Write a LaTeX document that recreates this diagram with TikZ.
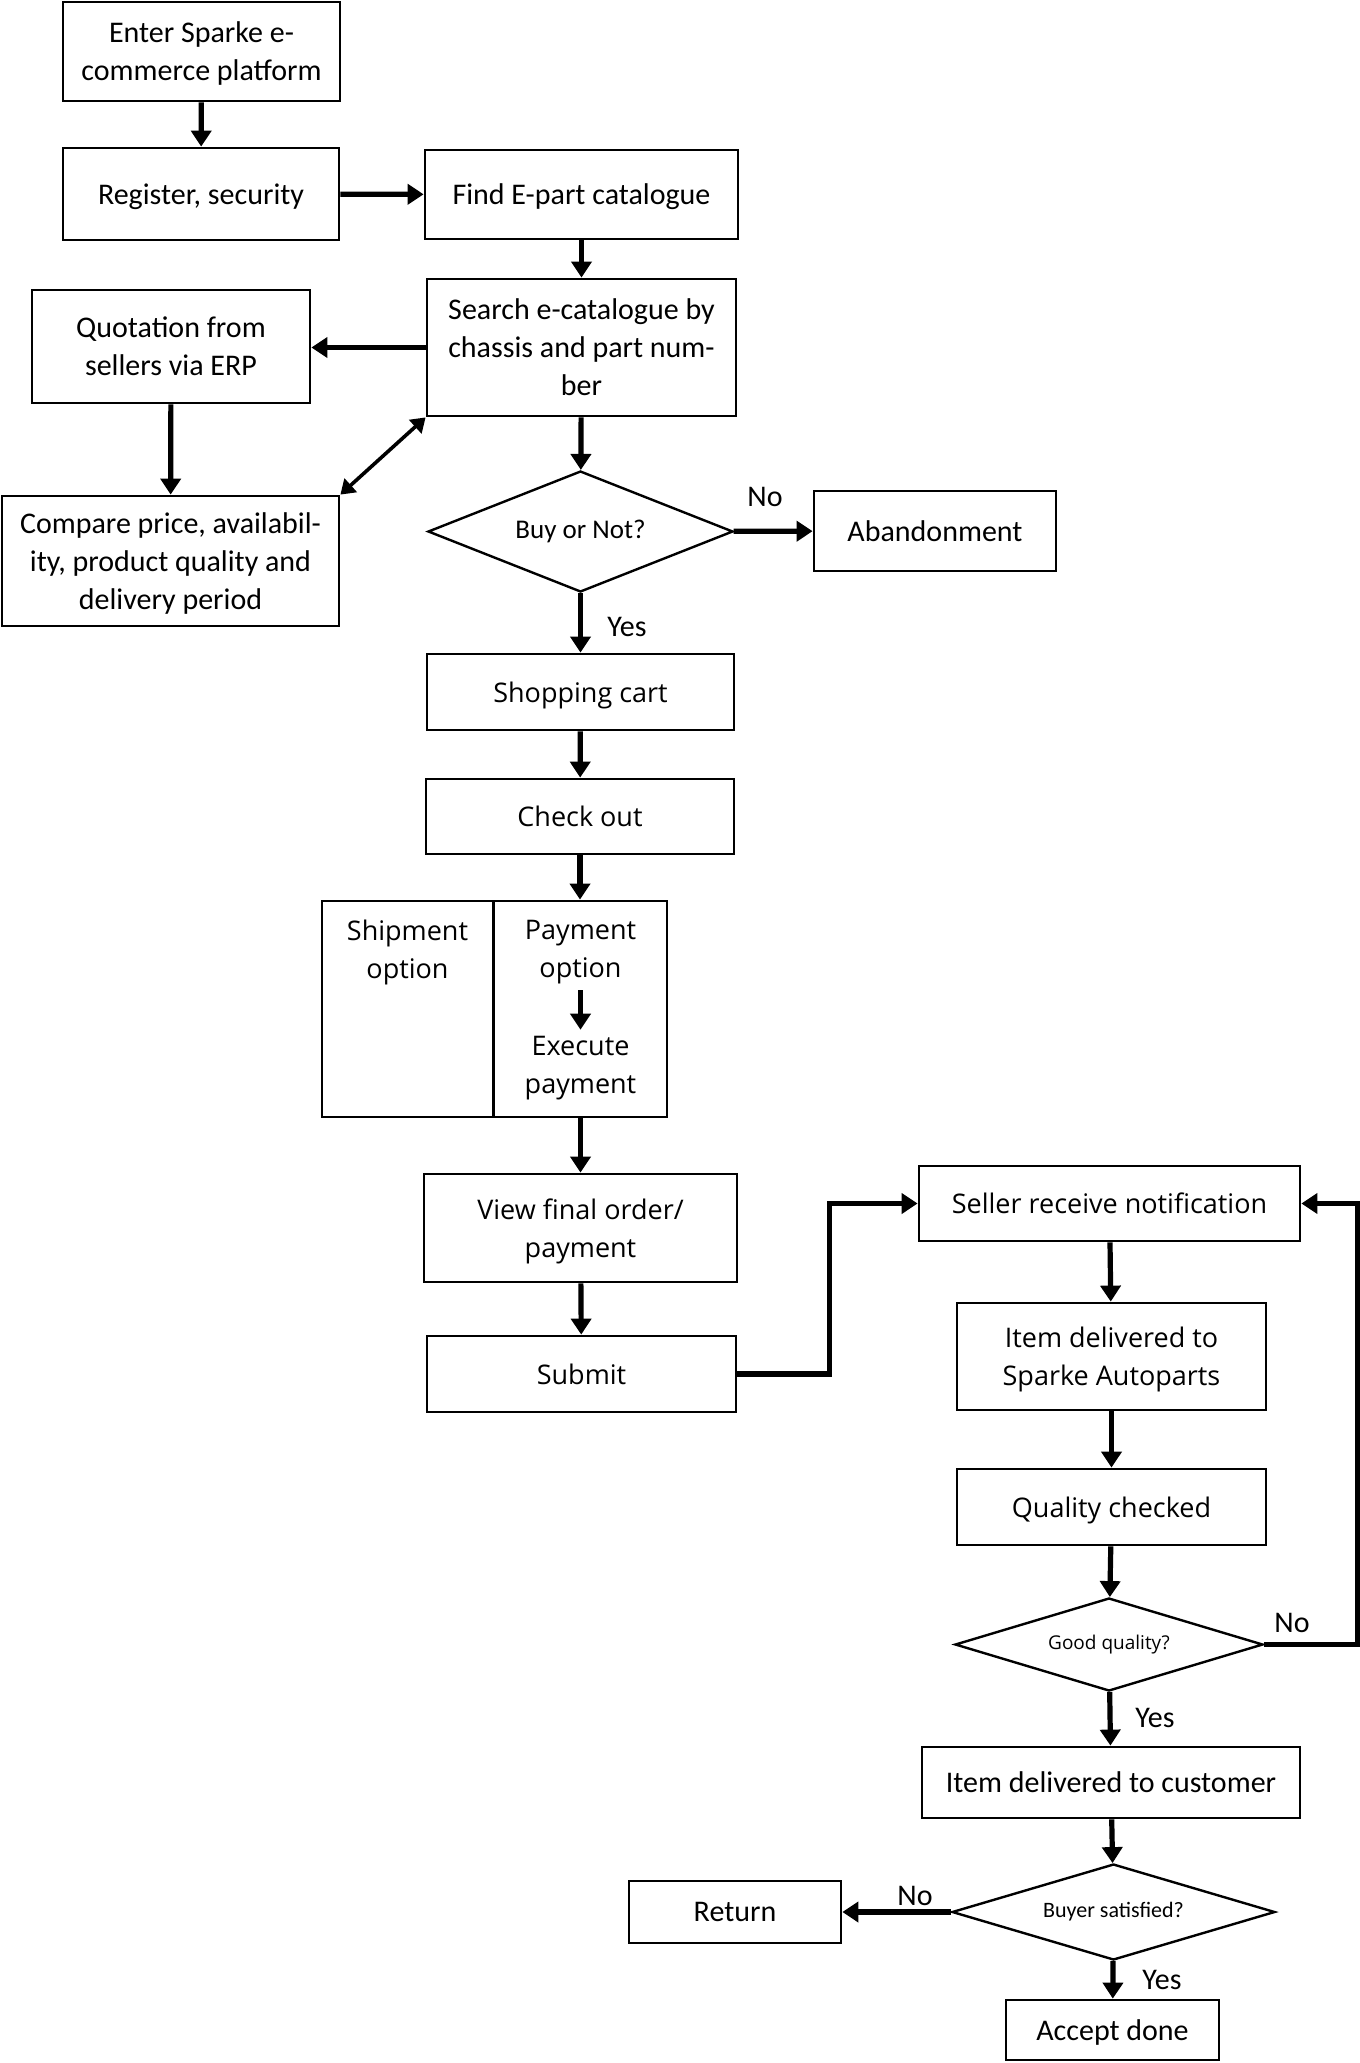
\documentclass[tikz,border=0pt]{standalone}
\usepackage{fontspec}
\setmainfont{Carlito}
\newfontfamily\segfont{Open Sans}
\usetikzlibrary{arrows.meta,shapes.geometric}
\tikzset{
  box/.style 2 args={draw, line width=1.4pt, rectangle, inner sep=2pt, align=center,
    minimum width=#1*0.5pt, minimum height=#2*0.5pt, text depth=0pt, font=\fontsize{15}{19}\selectfont},
  dia/.style 2 args={draw, line width=1.2pt, diamond, aspect=3, inner sep=0pt, align=center,
    minimum width=#1*0.5pt, minimum height=#2*0.5pt},
  arr/.style={line width=2.6pt, -{Triangle[length=8pt,width=10pt]}},
  dbl/.style={line width=1.8pt, {Triangle[length=7pt,width=9pt]}-{Triangle[length=7pt,width=9pt]}},
  lab/.style={font=\fontsize{15}{18}\selectfont, inner sep=0pt},
  seg/.style={font=\segfont\fontsize{13.5}{19}\selectfont},
  segtxt/.style={seg, align=center, inner sep=3pt}
}
\begin{document}
\begin{tikzpicture}[x=0.5pt, y=-0.5pt]
\useasboundingbox (0,0) rectangle (1360,2063);
% left / top column
\node[box={277}{99}] (enter) at (201.5,51.5) {Enter Sparke e-\\commerce platform};
\node[box={276}{92}] (reg) at (201,194) {Register, security};
\node[box={313}{89}] (find) at (581.5,194.5) {Find E-part catalogue};
\node[box={309}{137}] (search) at (581.5,347.5) {Search e-catalogue by\\chassis and part num-\\ber};
\node[box={278}{113}] (quot) at (171,346.5) {Quotation from\\sellers via ERP};
\node[box={337}{130}] (comp) at (170.5,561) {Compare price, availabil-\\ity, product quality and\\delivery period};
\node[dia={305}{121}, font=\fontsize{13.5}{16}\selectfont] (buy) at (580.5,531.5) {Buy or Not?};
\node[box={242}{80}] (aband) at (935,531) {Abandonment};
\node[box={307}{76}, seg] (shop) at (580.5,692) {Shopping cart};
\node[box={308}{75}, seg] (check) at (580,816.5) {Check out};
\node[box={171}{216}] (ship) at (407.5,1009) {};
\node[box={173}{216}] (pay) at (580.5,1009) {};
\node[segtxt] (shipt) at (407.5,952) {Shipment\\option};
\node[segtxt] (payt) at (580.5,952) {Payment\\option};
\node[segtxt] (exec) at (580.5,1068) {Execute\\payment};
\node[box={313}{108}, seg] (view) at (580.5,1228) {View final order/\\payment};
\node[box={309}{76}, seg] (submit) at (581.5,1374) {Submit};
% right column
\node[box={381}{75}, seg] (seller) at (1109.5,1203.5) {Seller receive notification};
\node[box={309}{107}, seg] (sparke) at (1111.5,1356.5) {Item delivered to\\Sparke Autoparts};
\node[box={309}{76}, seg] (qual) at (1111.5,1507) {Quality checked};
\node[dia={308}{93}, font=\segfont\fontsize{9.5}{12}\selectfont] (good) at (1109,1644.5) {Good quality?};
\node[box={378}{71}] (cust) at (1111,1782.5) {Item delivered to customer};
\node[dia={323}{96}, font=\fontsize{11}{13}\selectfont] (buyer) at (1113.5,1912) {Buyer satisfied?};
\node[box={212}{62}] (ret) at (735,1912) {Return};
\node[box={213}{60}] (accept) at (1112.5,2030) {Accept done};
% labels
\node[lab] (no1) at (765,497) {No};
\node[lab] (yes1) at (627,627) {Yes};
\node[lab] (no2) at (1292,1623) {No};
\node[lab] (yes2) at (1155,1718) {Yes};
\node[lab] (no3) at (915,1896) {No};
\node[lab] (yes3) at (1162,1980) {Yes};
% connectors
\draw[arr] (enter) -- (reg);
\draw[arr] (reg) -- (find);
\draw[arr] (find) -- (search);
\draw[arr] (search.west) -- (search.west -| quot.east);
\draw[arr] (quot) -- (comp);
\draw[dbl] (comp.north east) -- (search.south west);
\draw[arr] (search) -- (buy);
\draw[arr] (buy) -- (aband);
\draw[arr] (buy) -- (shop);
\draw[arr] (shop) -- (check);
\draw[arr] (check.south) -- (check.south |- pay.north);
\draw[arr] (payt) -- (exec);
\draw[arr] (pay) -- (view);
\draw[arr] (view) -- (submit);
\draw[arr] (submit.east) -- ++(92,0) |- (seller.west);
\draw[arr] (seller) -- (sparke);
\draw[arr] (sparke) -- (qual);
\draw[arr] (qual) -- (good);
\draw[arr] (good.east) -- ++(93,0) |- (seller.east);
\draw[arr] (good) -- (cust);
\draw[arr] (cust) -- (buyer);
\draw[arr] (buyer) -- (ret);
\draw[arr] (buyer) -- (accept);
\end{tikzpicture}
\end{document}
